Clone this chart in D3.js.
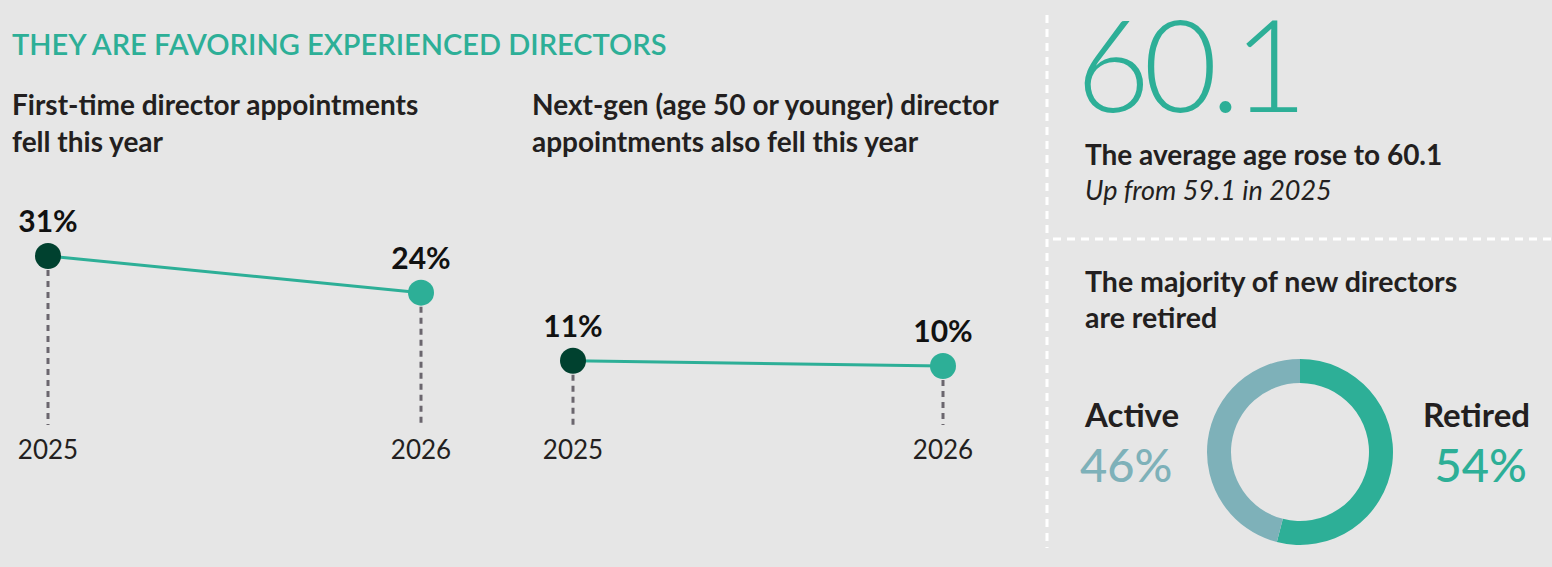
<!DOCTYPE html>
<html>
<head>
<meta charset="utf-8">
<script src="https://cdn.jsdelivr.net/npm/d3@7"></script>
<style>
  html, body { margin: 0; padding: 0; background: #e6e6e6; }
  svg { display: block; font-family: Lato, "Open Sans", sans-serif; }
</style>
</head>
<body>
<svg id="chart" width="1552" height="567"></svg>
<script>
// ---- data ----
const years = ['2025', '2026'];
const firstTime = [31, 24];       // first-time director appointments, %
const nextGen = [11, 10];         // next-gen (<=50) appointments, %
const avgAge = 60.1;
const avgAgePrev = 59.1;
const statusLabels = ['Retired', 'Active'];
const statusValues = [54, 46];

const TEAL = '#2daf97';
const DARK = '#00412f';
const SLATE = '#7eb1b9';
const INK = '#231f20';
const DASH = '#6b666e';

const svg = d3.select('#chart');
svg.append('rect').attr('width', 1552).attr('height', 567).attr('fill', '#e6e6e6');

// header
svg.append('text')
  .attr('x', 12).attr('y', 55)
  .attr('fill', TEAL)
  .attr('font-size', 29).attr('font-weight', 600)
  .text('THEY ARE FAVORING EXPERIENCED DIRECTORS');

function lines(x, y, arr, opts) {
  const t = svg.append('text')
    .attr('x', x).attr('y', y)
    .attr('fill', opts.fill || INK)
    .attr('font-size', opts.size)
    .attr('font-weight', opts.weight || 700)
    .attr('font-style', opts.style || null);
  arr.forEach((s, i) => {
    t.append('tspan').attr('x', x).attr('dy', i ? opts.lh : 0).text(s);
  });
  return t;
}

lines(12, 115, ['First-time director appointments', 'fell this year'], { size: 28, lh: 37 });
lines(532, 115, ['Next-gen (age 50 or younger) director', 'appointments also fell this year'], { size: 28, lh: 37 });

// shared y scale for both slope panels
const y = d3.scaleLinear().domain([10, 31]).range([366, 256]);
const baseY = 425;

function slope(values, x0, x1) {
  const x = d3.scalePoint().domain(years).range([x0, x1]);
  const pts = years.map((yr, i) => ({ yr, v: values[i] }));
  const g = svg.append('g');

  // dashed drop lines
  g.selectAll('line.drop').data(pts).enter()
    .append('line')
    .attr('class', 'drop')
    .attr('x1', d => x(d.yr)).attr('x2', d => x(d.yr))
    .attr('y1', d => y(d.v) + 14).attr('y2', baseY)
    .attr('stroke', DASH).attr('stroke-width', 3)
    .attr('stroke-dasharray', '6,5');

  g.append('path')
    .datum(pts)
    .attr('fill', 'none')
    .attr('stroke', TEAL).attr('stroke-width', 3)
    .attr('d', d3.line().x(d => x(d.yr)).y(d => y(d.v)));

  g.selectAll('circle').data(pts).enter()
    .append('circle')
    .attr('cx', d => x(d.yr)).attr('cy', d => y(d.v))
    .attr('r', 13)
    .attr('fill', (d, i) => i === 0 ? DARK : TEAL);

  g.selectAll('text.val').data(pts).enter()
    .append('text')
    .attr('class', 'val')
    .attr('x', d => x(d.yr)).attr('y', d => y(d.v) - 24)
    .attr('text-anchor', 'middle')
    .attr('fill', '#111')
    .attr('font-size', 30).attr('font-weight', 700)
    .text(d => d.v + '%');

  g.selectAll('text.yr').data(pts).enter()
    .append('text')
    .attr('class', 'yr')
    .attr('x', d => x(d.yr)).attr('y', 459)
    .attr('text-anchor', 'middle')
    .attr('fill', INK)
    .attr('font-size', 26).attr('font-weight', 400)
    .text(d => d.yr);
}

slope(firstTime, 48, 421);
slope(nextGen, 573, 943);

// dashed separators (white)
svg.append('line')
  .attr('x1', 1047).attr('x2', 1047).attr('y1', 15).attr('y2', 548)
  .attr('stroke', '#fff').attr('stroke-width', 3).attr('stroke-dasharray', '8,6');
svg.append('line')
  .attr('x1', 1053).attr('x2', 1552).attr('y1', 239).attr('y2', 239)
  .attr('stroke', '#fff').attr('stroke-width', 3).attr('stroke-dasharray', '8,6');

// big stat
svg.append('text')
  .attr('x', 1076).attr('y', 112)
  .attr('fill', TEAL)
  .attr('font-size', 128).attr('font-weight', 300)
  .attr('letter-spacing', -7)
  .text(d3.format('.1f')(avgAge));

lines(1085, 165, ['The average age rose to ' + d3.format('.1f')(avgAge)], { size: 28 });
lines(1085, 200, ['Up from ' + avgAgePrev + ' in 2025'], { size: 27, weight: 400, style: 'italic' });

lines(1085, 292, ['The majority of new directors', 'are retired'], { size: 28.5, lh: 36 });

// donut
const cx = 1300, cy = 452;
const pie = d3.pie().sort(null).value(d => d.v);
const arc = d3.arc().innerRadius(69).outerRadius(93);
const slices = pie(statusLabels.map((k, i) => ({ k, v: statusValues[i] })));
svg.append('g')
  .attr('transform', `translate(${cx},${cy})`)
  .selectAll('path').data(slices).enter()
  .append('path')
  .attr('d', arc)
  .attr('fill', d => d.data.k === 'Retired' ? TEAL : SLATE);

// donut labels
const active = slices.find(d => d.data.k === 'Active').data;
const retired = slices.find(d => d.data.k === 'Retired').data;
svg.append('text').attr('x', 1085).attr('y', 427)
  .attr('fill', INK).attr('font-size', 33).attr('font-weight', 700).text(active.k);
svg.append('text').attr('x', 1080).attr('y', 482)
  .attr('fill', SLATE).attr('font-size', 47).attr('font-weight', 500).text(active.v + '%');
svg.append('text').attr('x', 1530).attr('y', 427).attr('text-anchor', 'end')
  .attr('fill', INK).attr('font-size', 33).attr('font-weight', 700).text(retired.k);
svg.append('text').attr('x', 1527).attr('y', 482).attr('text-anchor', 'end')
  .attr('fill', TEAL).attr('font-size', 47).attr('font-weight', 500).text(retired.v + '%');
</script>
</body>
</html>
